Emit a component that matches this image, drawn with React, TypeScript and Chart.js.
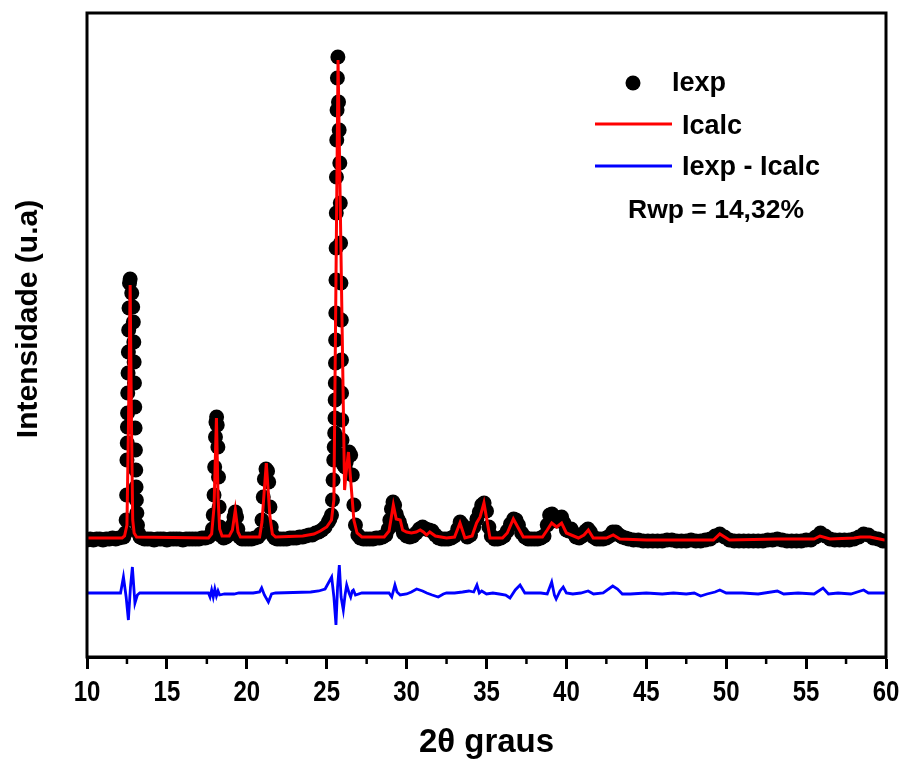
import React, { useEffect, useRef } from "react";
import { Chart, registerables } from "chart.js";

Chart.register(...registerables);

const SANS = "'Liberation Sans', Arial, sans-serif";

const X_MIN = 10;
const X_MAX = 60;
const Y_MIN = 0;
const Y_MAX = 644;
const majorStep = 5;
const minorTicks = [12.5, 17.5, 22.5, 27.5, 32.5, 37.5, 42.5, 47.5, 52.5, 57.5];

const xTitle = "2θ graus";
const yTitle = "Intensidade (u.a)";
const legendLabels = ["Iexp", "Icalc", "Iexp - Icalc"];
const rwpText = "Rwp = 14,32%";

// Experimental intensity (black circles)
const expPoints: [number, number][] = [
  [10.0, 117], [10.2, 118], [10.4, 117], [10.6, 118], [10.8, 118], [11.0, 117], [11.2, 118], [11.4, 118], [11.6, 119], [11.8, 118],
  [12.0, 119], [12.2, 120], [12.3, 120], [12.4, 124], [12.45, 137], [12.48, 162], [12.5, 197], [12.52, 214], [12.53, 230], [12.54, 244],
  [12.55, 264], [12.57, 284], [12.59, 305], [12.61, 327], [12.63, 349], [12.66, 374], [12.7, 378], [12.8, 364], [12.86, 350], [12.9, 335],
  [12.93, 315], [12.95, 295], [12.97, 274], [12.99, 250], [13.01, 229], [13.03, 207], [13.05, 187], [13.07, 170], [13.09, 157], [13.12, 144],
  [13.16, 132], [13.22, 124], [13.32, 120], [13.45, 119], [13.6, 118], [13.8, 118], [14.0, 118], [14.2, 117], [14.4, 118], [14.6, 118],
  [14.8, 118], [15.0, 117], [15.2, 118], [15.4, 118], [15.6, 118], [15.8, 118], [16.0, 117], [16.2, 118], [16.4, 118], [16.6, 118],
  [16.8, 118], [17.0, 118], [17.2, 119], [17.4, 119], [17.6, 120], [17.75, 122], [17.85, 128], [17.9, 142], [17.95, 162], [17.99, 190],
  [18.04, 220], [18.07, 235], [18.11, 240], [18.15, 232], [18.19, 210], [18.23, 180], [18.27, 150], [18.33, 130], [18.42, 121], [18.55, 119],
  [18.7, 120], [18.85, 122], [19.0, 126], [19.1, 132], [19.2, 140], [19.28, 145], [19.36, 140], [19.44, 128], [19.55, 120], [19.7, 118],
  [19.9, 118], [20.1, 118], [20.3, 118], [20.5, 119], [20.7, 120], [20.85, 123], [20.95, 137], [21.03, 160], [21.1, 178], [21.2, 188],
  [21.3, 186], [21.37, 175], [21.45, 150], [21.53, 130], [21.62, 122], [21.75, 119], [21.9, 118], [22.1, 118], [22.3, 118], [22.5, 118],
  [22.7, 119], [22.9, 119], [23.1, 119], [23.3, 120], [23.5, 120], [23.7, 121], [23.9, 122], [24.1, 122], [24.3, 124], [24.5, 125],
  [24.7, 127], [24.9, 130], [25.1, 135], [25.2, 138], [25.3, 142], [25.36, 157], [25.4, 177], [25.44, 197], [25.47, 210], [25.5, 224],
  [25.52, 239], [25.53, 257], [25.54, 274], [25.55, 294], [25.56, 317], [25.57, 344], [25.58, 377], [25.59, 409], [25.6, 444], [25.61, 480],
  [25.63, 517], [25.65, 547], [25.67, 579], [25.7, 600], [25.74, 555], [25.78, 527], [25.82, 494], [25.85, 454], [25.87, 414], [25.89, 374],
  [25.91, 337], [25.92, 297], [25.93, 264], [25.94, 237], [25.96, 217], [26.0, 202], [26.06, 192], [26.15, 190], [26.22, 195], [26.3, 202],
  [26.4, 205], [26.5, 202], [26.6, 182], [26.7, 152], [26.8, 132], [26.95, 122], [27.1, 119], [27.3, 118], [27.5, 118], [27.7, 118],
  [27.9, 118], [28.1, 119], [28.3, 119], [28.5, 120], [28.7, 122], [28.85, 128], [28.95, 137], [29.05, 148], [29.15, 155], [29.25, 152],
  [29.35, 143], [29.45, 138], [29.55, 135], [29.65, 130], [29.8, 124], [30.0, 121], [30.2, 120], [30.4, 121], [30.6, 124], [30.8, 128],
  [31.0, 130], [31.2, 128], [31.4, 127], [31.6, 126], [31.8, 122], [32.0, 119], [32.2, 118], [32.4, 118], [32.6, 118], [32.8, 119],
  [33.0, 121], [33.2, 128], [33.35, 135], [33.5, 132], [33.65, 124], [33.8, 120], [34.0, 122], [34.2, 130], [34.4, 138], [34.55, 145],
  [34.7, 152], [34.85, 154], [35.0, 146], [35.15, 130], [35.3, 121], [35.5, 118], [35.7, 118], [35.9, 119], [36.1, 121], [36.3, 126],
  [36.5, 133], [36.7, 138], [36.85, 137], [37.0, 132], [37.2, 124], [37.4, 120], [37.6, 118], [37.8, 118], [38.0, 118], [38.2, 118],
  [38.4, 119], [38.6, 121], [38.8, 132], [38.95, 142], [39.1, 143], [39.25, 138], [39.4, 136], [39.55, 139], [39.7, 140], [39.85, 134],
  [40.0, 127], [40.15, 126], [40.3, 128], [40.45, 124], [40.6, 120], [40.8, 119], [41.0, 121], [41.2, 126], [41.35, 128], [41.5, 125],
  [41.7, 120], [41.9, 118], [42.1, 118], [42.3, 118], [42.5, 119], [42.7, 121], [42.9, 125], [43.1, 125], [43.3, 122], [43.5, 120],
  [43.7, 119], [43.9, 118], [44.2, 117], [44.5, 117], [44.8, 116], [45.1, 116], [45.4, 116], [45.7, 116], [46.0, 116], [46.3, 117],
  [46.6, 117], [46.9, 116], [47.2, 116], [47.5, 116], [47.8, 117], [48.1, 116], [48.4, 116], [48.7, 117], [49.0, 118], [49.3, 121],
  [49.6, 123], [49.9, 120], [50.2, 117], [50.5, 116], [50.8, 116], [51.1, 116], [51.4, 116], [51.7, 116], [52.0, 116], [52.3, 116],
  [52.6, 117], [52.9, 117], [53.2, 118], [53.5, 117], [53.8, 116], [54.1, 116], [54.4, 116], [54.7, 116], [55.0, 117], [55.3, 117],
  [55.6, 120], [55.9, 124], [56.2, 121], [56.5, 118], [56.8, 117], [57.1, 117], [57.4, 117], [57.7, 117], [58.0, 118], [58.3, 120],
  [58.6, 123], [58.9, 122], [59.2, 119], [59.5, 118], [59.8, 116], [60.0, 116],
];

// Calculated intensity (red line)
const calcPoints: [number, number][] = [
  [10, 119], [12.2, 119], [12.35, 121], [12.5, 132], [12.6, 237], [12.7, 372], [12.78, 237], [12.86, 137], [12.95, 124], [13.1, 120],
  [17.6, 119], [17.8, 123], [17.95, 150], [18.1, 239], [18.2, 160], [18.3, 128], [18.45, 121], [18.9, 121], [19.1, 127], [19.28, 147],
  [19.45, 125], [19.6, 120], [20.8, 120], [20.95, 135], [21.22, 194], [21.45, 140], [21.6, 123], [21.8, 120], [23.5, 121], [24.2, 123],
  [24.6, 126], [25.0, 130], [25.3, 137], [25.45, 157], [25.71, 597], [26.12, 167], [26.2, 182], [26.36, 205], [26.5, 177], [26.7, 137],
  [26.9, 124], [27.2, 120], [28.6, 120], [28.9, 126], [29.17, 152], [29.35, 138], [29.6, 137], [29.75, 127], [30.0, 125], [30.3, 124],
  [30.6, 125], [30.85, 127], [31.05, 125], [31.25, 122], [31.45, 125], [31.8, 121], [32.5, 119], [33.0, 120], [33.34, 134], [33.65, 119],
  [34.1, 121], [34.38, 134], [34.6, 140], [34.84, 154], [35.22, 119], [36.0, 119], [36.3, 124], [36.68, 138], [37.3, 120], [38.5, 120],
  [38.8, 127], [39.08, 134], [39.39, 130], [39.7, 134], [40.0, 124], [40.3, 122], [40.75, 119], [41.1, 122], [41.37, 127], [41.68, 119],
  [42.5, 119], [42.93, 122], [43.35, 118], [45.0, 117], [49.2, 117], [49.6, 123], [50.2, 117], [53.2, 118], [55.5, 118], [55.87, 121],
  [56.5, 118], [58.0, 119], [58.4, 120], [59.0, 120], [59.9, 117], [60.0, 117],
];

// Difference Iexp - Icalc, offset (blue line)
const diffPoints: [number, number][] = [
  [10, 64], [12.1, 64], [12.28, 80], [12.45, 60], [12.59, 37], [12.72, 70], [12.84, 90], [13.0, 54], [13.15, 62], [13.3, 64],
  [17.6, 64], [17.7, 60], [17.8, 67], [17.9, 60], [18.0, 68], [18.1, 61], [18.2, 66], [18.3, 62], [18.6, 63], [19.2, 63],
  [19.5, 64], [20.4, 64], [20.8, 65], [20.93, 69], [21.1, 62], [21.35, 55], [21.55, 63], [21.8, 64], [24.0, 65], [24.5, 66],
  [24.9, 68], [25.31, 80], [25.45, 60], [25.58, 32], [25.68, 70], [25.79, 92], [25.9, 60], [26.04, 47], [26.15, 62], [26.25, 72],
  [26.4, 64], [26.5, 60], [26.6, 66], [26.67, 67], [26.8, 62], [27.2, 64], [28.9, 64], [29.07, 60], [29.27, 72], [29.4, 65],
  [29.6, 62], [30.0, 63], [30.3, 65], [30.63, 68], [31.0, 66], [31.26, 64], [31.6, 62], [31.98, 60], [32.3, 63], [32.5, 64],
  [33.0, 64], [33.5, 65], [33.9, 66], [34.2, 65], [34.4, 72], [34.55, 64], [34.7, 66], [35.0, 63], [35.4, 64], [35.8, 63],
  [36.2, 62], [36.47, 59], [36.8, 67], [37.1, 72], [37.4, 64], [37.8, 64], [38.4, 64], [38.8, 63], [39.08, 75], [39.25, 62],
  [39.36, 58], [39.6, 66], [39.8, 70], [40.0, 64], [40.4, 63], [40.9, 64], [41.36, 66], [41.7, 63], [42.3, 64], [42.9, 71],
  [43.2, 68], [43.5, 63], [44.0, 63], [45.0, 64], [46.0, 63], [46.7, 64], [47.5, 63], [48.0, 64], [48.4, 61], [48.8, 63],
  [49.3, 65], [49.6, 67], [50.0, 64], [51.0, 64], [52.0, 63], [53.2, 66], [53.6, 63], [54.5, 64], [55.5, 63], [56.06, 69],
  [56.4, 63], [57.0, 64], [57.8, 63], [58.6, 67], [58.9, 64], [59.5, 64], [60.0, 64],
];

const toXY = (arr: [number, number][]) => arr.map(([x, y]) => ({ x, y }));

const decorPlugin = {
  id: "decor",
  afterDraw(chart: any) {
    const { ctx, chartArea: ca, scales } = chart;
    ctx.save();
    // frame
    ctx.strokeStyle = "#000";
    ctx.lineWidth = 3;
    ctx.strokeRect(ca.left, ca.top, ca.right - ca.left, ca.bottom - ca.top);
    // minor ticks
    ctx.lineWidth = 2.5;
    for (const v of minorTicks) {
      const px = scales.x.getPixelForValue(v);
      ctx.beginPath();
      ctx.moveTo(px, ca.bottom);
      ctx.lineTo(px, ca.bottom + 7);
      ctx.stroke();
    }
    // condensed tick labels, placed by the x scale
    ctx.fillStyle = "#000";
    ctx.font = `bold 30px ${SANS}`;
    ctx.textAlign = "center";
    ctx.textBaseline = "alphabetic";
    for (const t of scales.x.ticks) {
      const px = scales.x.getPixelForValue(t.value);
      ctx.save();
      ctx.translate(px, 701);
      ctx.scale(0.8, 1);
      ctx.fillText(String(t.value), 0, 0);
      ctx.restore();
    }
    // axis titles
    ctx.font = `bold 33px ${SANS}`;
    ctx.fillText(xTitle, (ca.left + ca.right) / 2, 752);
    ctx.save();
    ctx.translate(29, 319);
    ctx.rotate(-Math.PI / 2);
    ctx.font = `bold 30px ${SANS}`;
    ctx.textBaseline = "middle";
    ctx.fillText(yTitle, 0, 0);
    ctx.restore();
    // legend
    ctx.textAlign = "left";
    ctx.textBaseline = "middle";
    ctx.font = `bold 27px ${SANS}`;
    ctx.beginPath();
    ctx.arc(633, 83, 7.5, 0, Math.PI * 2);
    ctx.fill();
    ctx.fillText(legendLabels[0], 672, 84);
    ctx.lineWidth = 3;
    ctx.strokeStyle = "#ff0000";
    ctx.beginPath();
    ctx.moveTo(595, 124);
    ctx.lineTo(672, 124);
    ctx.stroke();
    ctx.fillText(legendLabels[1], 682, 127);
    ctx.strokeStyle = "#0000ff";
    ctx.beginPath();
    ctx.moveTo(595, 166);
    ctx.lineTo(672, 166);
    ctx.stroke();
    ctx.fillText(legendLabels[2], 682, 168);
    ctx.font = `bold 26.5px ${SANS}`;
    ctx.fillText(rwpText, 628, 211);
    ctx.restore();
  },
};

export default function App() {
  const canvasRef = useRef<HTMLCanvasElement | null>(null);

  useEffect(() => {
    document.body.style.margin = "0";
    const canvas = canvasRef.current;
    if (!canvas) return;
    const chart = new Chart(canvas, {
      type: "scatter",
      data: {
        datasets: [
          {
            label: legendLabels[1],
            data: toXY(calcPoints),
            showLine: true,
            borderColor: "#ff0000",
            borderWidth: 3,
            pointRadius: 0,
            fill: false,
            order: 0,
          },
          {
            label: legendLabels[2],
            data: toXY(diffPoints),
            showLine: true,
            borderColor: "#0000ff",
            borderWidth: 2.8,
            pointRadius: 0,
            fill: false,
            order: 1,
          },
          {
            label: legendLabels[0],
            data: toXY(expPoints),
            showLine: false,
            pointRadius: 7.5,
            pointBackgroundColor: "#000",
            pointBorderWidth: 0,
            backgroundColor: "#000",
            borderColor: "#000",
            order: 2,
          },
        ],
      },
      options: {
        responsive: false,
        animation: false,
        devicePixelRatio: 1,
        layout: { padding: { left: 87, right: 19, top: 13, bottom: 0 } },
        plugins: {
          legend: { display: false },
          tooltip: { enabled: false },
        },
        scales: {
          x: {
            type: "linear",
            min: X_MIN,
            max: X_MAX,
            afterFit: (s: any) => {
              s.height = 103;
            },
            ticks: {
              stepSize: majorStep,
              display: false,
            },
            grid: {
              drawOnChartArea: false,
              tickLength: 12,
              tickWidth: 3,
              tickColor: "#000",
            },
            border: { display: true, color: "#000", width: 3 },
          },
          y: {
            display: false,
            min: Y_MIN,
            max: Y_MAX,
          },
        },
      },
      plugins: [decorPlugin],
    } as any);
    return () => chart.destroy();
  }, []);

  return (
    <div style={{ position: "absolute", left: 0, top: 0, width: 905, height: 760, background: "#fff" }}>
      <canvas ref={canvasRef} width={905} height={760} style={{ display: "block" }} />
    </div>
  );
}
